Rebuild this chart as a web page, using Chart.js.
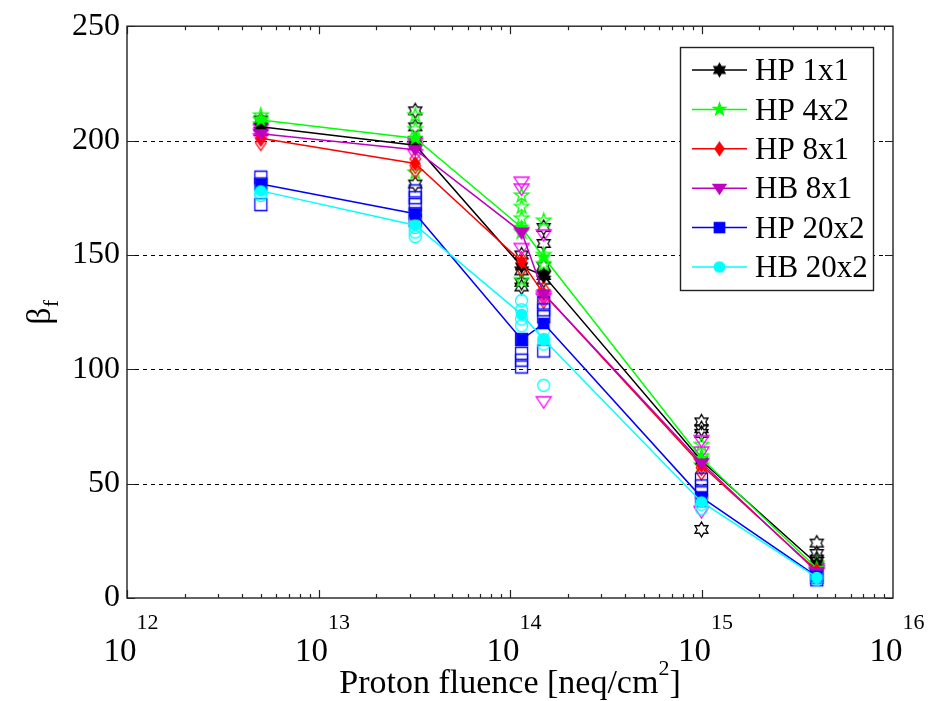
<!DOCTYPE html>
<html>
<head>
<meta charset="utf-8">
<script src="https://cdn.jsdelivr.net/npm/chart.js@4.4.1/dist/chart.umd.min.js"></script>
<style>
  html, body { margin: 0; padding: 0; background: #fff; }
  #wrap { width: 928px; height: 701px; }
  .probe { font-family: "Liberation Serif"; position: absolute; left: -999px; }
</style>
</head>
<body>
<span class="probe">0123 Proton</span>
<div id="wrap"><canvas id="c" width="928" height="701"></canvas></div>
<script>
// --- data ---
const fluence = [5e12, 3.2e13, 1.15e14, 1.5e14, 1e15, 4e15];
const seriesNames = ['HP 1x1', 'HP 4x2', 'HP 8x1', 'HB 8x1', 'HP 20x2', 'HB 20x2'];
const yTicks = [0, 50, 100, 150, 200, 250];
const xDecades = [12, 13, 14, 15, 16];

// mean beta per fluence (filled markers + line)
const meanHP1x1 = [206, 198, 145, 141, 60, 15];
const meanHP4x2 = [209, 201, 162, 149, 61, 13];
const meanHP8x1 = [201, 190, 147, 133, 58, 12];
const meanHB8x1 = [203, 196, 160, 133, 59, 11.5];
const meanHP20x2 = [181, 168, 113, 120, 44, 9.5];
const meanHB20x2 = [178, 163, 124, 113, 42, 9];

// single measurements per fluence (open markers)
const measHP1x1 = [[209, 206, 204], [213, 206, 200, 181], [150, 143, 138, 136], [162, 155, 145, 141, 139], [77, 74, 72, 30], [24, 19.5, 17, 16]];
const measHP4x2 = [[211, 209, 207], [211, 205, 199, 186], [176, 171, 166, 160, 139], [165, 150, 146], [67, 62, 58], [15, 13, 12]];
const measHP8x1 = [[203, 201, 199], [192, 189, 187], [148, 146, 144], [135, 132, 130], [60, 57, 55], [13, 12, 11]];
const measHB8x1 = [[205, 203, 201], [199, 197, 194], [182, 179, 160, 153], [159, 132, 131, 86], [69, 64, 59, 38], [13, 12, 11]];
const measHP20x2 = [[184, 181, 172], [178, 175, 172, 168, 165], [113, 107, 104, 101], [129, 126, 123, 108], [52, 49, 46, 43], [10, 9, 8]];
const measHB20x2 = [[179, 177, 176], [165, 162, 160, 158], [130, 126, 122, 119], [117, 113, 111, 93], [43, 41, 39], [10, 9, 8]];

const meanSets = [meanHP1x1, meanHP4x2, meanHP8x1, meanHB8x1, meanHP20x2, meanHB20x2];
const measSets = [measHP1x1, measHP4x2, measHP8x1, measHB8x1, measHP20x2, measHB20x2];
const lineColors = ['#000000', '#00ff00', '#ff0000', '#bf00bf', '#0000ff', '#00ffff'];
const openColors = ['#000000', '#00ff00', '#ff0000', '#ff00ff', '#0000ff', '#00ffff'];
const shapes = ['hexagram', 'pentagram', 'diamond', 'triDown', 'square', 'circle'];

const FONT = '"Liberation Serif", "Times New Roman", "DejaVu Serif", serif';

// build marker images
function starPts(n, R, r) {
  const pts = [];
  for (let i = 0; i < 2 * n; i++) {
    const a = -Math.PI / 2 + i * Math.PI / n;
    const rr = i % 2 === 0 ? R : r;
    pts.push([Math.cos(a) * rr, Math.sin(a) * rr]);
  }
  return pts;
}
function makeMarker(shape, R, color, filled) {
  const size = Math.ceil(2 * R + 4);
  const cv = document.createElement('canvas');
  cv.width = size; cv.height = size;
  const g = cv.getContext('2d');
  g.translate(size / 2, size / 2);
  g.beginPath();
  let pts = null;
  if (shape === 'hexagram') pts = starPts(6, R, R / Math.sqrt(3));
  if (shape === 'pentagram') pts = starPts(5, R, R * 0.382);
  if (shape === 'diamond') pts = [[0, -R], [R * 0.7, 0], [0, R], [-R * 0.7, 0]];
  if (shape === 'triDown') pts = [[-R, -R * 0.6], [R, -R * 0.6], [0, R * 0.9]];
  if (shape === 'square') { const s = R * 0.8; pts = [[-s, -s], [s, -s], [s, s], [-s, s]]; }
  if (shape === 'circle') g.arc(0, 0, R * 0.8, 0, Math.PI * 2);
  if (pts) { pts.forEach((p, i) => i ? g.lineTo(p[0], p[1]) : g.moveTo(p[0], p[1])); g.closePath(); }
  if (filled) { g.fillStyle = color; g.fill(); }
  g.strokeStyle = color; g.lineWidth = 1.3; g.stroke();
  return cv;
}

const filledMarkers = shapes.map((s, i) => makeMarker(s, 6.5, lineColors[i], true));
const openMarkers = shapes.map((s, i) => makeMarker(s, 7.5, openColors[i], false));

const datasets = [];
seriesNames.forEach((name, i) => {
  datasets.push({
    type: 'line',
    label: name,
    data: fluence.map((x, k) => ({ x: x, y: meanSets[i][k] })),
    borderColor: lineColors[i],
    backgroundColor: lineColors[i],
    borderWidth: 1.5,
    pointStyle: filledMarkers[i],
    pointRadius: 6,
    tension: 0,
    order: 5 - i
  });
});
seriesNames.forEach((name, i) => {
  const pts = [];
  fluence.forEach((x, k) => measSets[i][k].forEach(v => pts.push({ x: x, y: v })));
  datasets.push({
    type: 'scatter',
    label: name + ' single',
    data: pts,
    showLine: false,
    pointStyle: openMarkers[i],
    pointRadius: 7,
    order: 20 - i
  });
});

const framePlugin = {
  id: 'frame',
  beforeDatasetsDraw(chart) {
    const { ctx, chartArea: a, scales: { x, y } } = chart;
    ctx.save();
    // dashed grid
    ctx.strokeStyle = '#000'; ctx.lineWidth = 1; ctx.setLineDash([4, 4]);
    yTicks.forEach(v => {
      if (v === 0 || v === 250) return;
      const py = Math.round(y.getPixelForValue(v)) + 0.5;
      ctx.beginPath(); ctx.moveTo(a.left, py); ctx.lineTo(a.right, py); ctx.stroke();
    });
    ctx.setLineDash([]);
    ctx.strokeStyle = '#222'; ctx.lineWidth = 1.2;
    // x ticks (major + minor), inside, bottom and top
    for (let d = 12; d < 16; d++) {
      for (let m = 1; m <= 9; m++) {
        const px = Math.round(x.getPixelForValue(m * Math.pow(10, d))) + 0.5;
        const len = m === 1 ? 8 : 4;
        ctx.beginPath();
        ctx.moveTo(px, a.bottom); ctx.lineTo(px, a.bottom - len);
        ctx.moveTo(px, a.top); ctx.lineTo(px, a.top + len);
        ctx.stroke();
      }
    }
    // y ticks
    yTicks.forEach(v => {
      const py = Math.round(y.getPixelForValue(v)) + 0.5;
      ctx.beginPath();
      ctx.moveTo(a.left, py); ctx.lineTo(a.left + 8, py);
      ctx.moveTo(a.right, py); ctx.lineTo(a.right - 8, py);
      ctx.stroke();
    });
    ctx.restore();
  },
  afterDatasetsDraw(chart) {
    const { ctx, chartArea: a, scales: { x, y } } = chart;
    ctx.save();
    ctx.strokeStyle = '#222'; ctx.lineWidth = 1.4;
    ctx.strokeRect(a.left, a.top, a.right - a.left, a.bottom - a.top);

    // x tick labels 10^n
    ctx.fillStyle = '#000';
    ctx.textBaseline = 'alphabetic';
    xDecades.forEach(n => {
      const px = x.getPixelForValue(Math.pow(10, n));
      ctx.font = '33px ' + FONT;
      const wb = ctx.measureText('10').width;
      ctx.font = '22px ' + FONT;
      const we = ctx.measureText(String(n)).width;
      const x0 = px - (wb + we) / 2 + 4;
      ctx.font = '33px ' + FONT;
      ctx.textAlign = 'left';
      ctx.fillText('10', x0, 661);
      ctx.font = '22px ' + FONT;
      ctx.fillText(String(n), x0 + wb, 629);
    });

    // x axis title
    ctx.font = '34px ' + FONT;
    const t1 = 'Proton fluence [neq/cm';
    const w1 = ctx.measureText(t1).width;
    ctx.font = '22px ' + FONT;
    const w2 = ctx.measureText('2').width;
    ctx.font = '34px ' + FONT;
    const w3 = ctx.measureText(']').width;
    const tx = (a.left + a.right) / 2 - (w1 + w2 + w3) / 2;
    ctx.fillText(t1, tx, 693);
    ctx.font = '22px ' + FONT;
    ctx.fillText('2', tx + w1, 675);
    ctx.font = '34px ' + FONT;
    ctx.fillText(']', tx + w1 + w2, 693);

    // y axis title beta_f
    ctx.save();
    ctx.translate(50, 312);
    ctx.rotate(-Math.PI / 2);
    ctx.font = '34px ' + FONT;
    const wb = ctx.measureText('\u03b2').width;
    ctx.textAlign = 'left';
    ctx.fillText('\u03b2', -wb / 2 - 4, 0);
    ctx.font = '22px ' + FONT;
    ctx.fillText('f', wb / 2 - 4, 8);
    ctx.restore();

    // legend
    const lx = 680, ly = 47, lw = 193, lh = 243;
    ctx.fillStyle = '#fff';
    ctx.fillRect(lx, ly, lw, lh);
    ctx.strokeStyle = '#222'; ctx.lineWidth = 1.4;
    ctx.strokeRect(lx + 0.5, ly + 0.5, lw, lh);
    seriesNames.forEach((name, i) => {
      const cy = 70 + i * 39.4;
      ctx.strokeStyle = lineColors[i]; ctx.lineWidth = 1.5;
      ctx.beginPath(); ctx.moveTo(692, cy); ctx.lineTo(747, cy); ctx.stroke();
      const img = filledMarkers[i];
      ctx.drawImage(img, 719.5 - img.width / 2, cy - img.height / 2);
      ctx.fillStyle = '#000';
      ctx.font = '31px ' + FONT;
      ctx.textAlign = 'left';
      ctx.textBaseline = 'middle';
      ctx.fillText(name, 755, cy + 2);
    });
    ctx.restore();
  }
};

function build() {
  new Chart(document.getElementById('c'), {
    type: 'scatter',
    data: { datasets: datasets },
    options: {
      responsive: false,
      animation: false,
      devicePixelRatio: 1,
      layout: { padding: { left: 0, right: 35, top: 19, bottom: 0 } },
      plugins: { legend: { display: false }, tooltip: { enabled: false } },
      scales: {
        x: {
          type: 'logarithmic',
          min: 1e12,
          max: 1e16,
          ticks: { display: false },
          grid: { display: false },
          border: { display: false },
          afterFit: s => { s.height = 103; }
        },
        y: {
          min: 0,
          max: 250,
          afterBuildTicks: s => { s.ticks = yTicks.map(v => ({ value: v })); },
          ticks: { color: '#000', font: { family: FONT, size: 32 }, padding: 7 },
          grid: { display: false, drawTicks: false },
          border: { display: false },
          afterFit: s => { s.width = 127; }
        }
      }
    },
    plugins: [framePlugin]
  });
}

document.fonts.load('32px "Liberation Serif"').then(build, build);
</script>
</body>
</html>
